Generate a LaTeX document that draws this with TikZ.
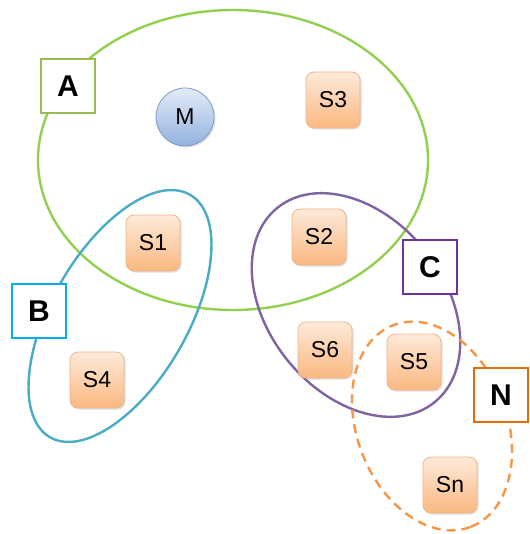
\documentclass[tikz,border=0pt]{standalone}
\usepackage{fontspec}
\setmainfont{Liberation Sans}
\usetikzlibrary{shapes.geometric,shadows}
\definecolor{grA}{HTML}{92D050}
\definecolor{boxA}{HTML}{9BBB59}
\definecolor{ellB}{HTML}{4BACC6}
\definecolor{boxB}{HTML}{00B0F0}
\definecolor{ellC}{HTML}{8064A2}
\definecolor{boxC}{HTML}{7030A0}
\definecolor{ellN}{HTML}{F79646}
\definecolor{boxN}{HTML}{E46C0A}
\definecolor{sTop}{HTML}{FDEADA}
\definecolor{sBot}{HTML}{FAB880}
\definecolor{sBorder}{HTML}{F2B48A}
\definecolor{mTop}{HTML}{E3ECF8}
\definecolor{mBot}{HTML}{93B1DE}
\definecolor{mBorder}{HTML}{7D9CCB}
\tikzset{
  grp/.style={ellipse, inner sep=0pt, line width=2.4pt},
  lab/.style={draw, fill=white, line width=2.8pt, minimum width=54pt, minimum height=54pt, inner sep=0pt, font=\fontsize{30}{30}\selectfont\bfseries},
  sbox/.style={draw=sBorder, line width=0.8pt, rounded corners=8pt, top color=sTop, bottom color=sBot, minimum width=54pt, minimum height=56pt, inner sep=0pt, font=\fontsize{23}{23}\selectfont, drop shadow={shadow xshift=1.5pt, shadow yshift=-1.5pt, opacity=0.25}},
  mnode/.style={circle, draw=mBorder, line width=0.8pt, top color=mTop, bottom color=mBot, minimum size=58pt, inner sep=0pt, font=\fontsize{23}{23}\selectfont, drop shadow={shadow xshift=1.5pt, shadow yshift=-1.5pt, opacity=0.25}}
}
\begin{document}
\begin{tikzpicture}[x=1pt, y=-1pt]
\useasboundingbox[fill=white] (0,0) rectangle (529,534);
% group ellipses
\node[grp, draw=grA, minimum width=390pt, minimum height=300pt] (ga) at (233,160) {};
\node[grp, draw=ellB, minimum width=280pt, minimum height=136pt, rotate=60] (gb) at (120,316) {};
\node[grp, draw=ellC, minimum width=250pt, minimum height=176pt, rotate=-51] (gc) at (356,305) {};
\node[grp, draw=ellN, dashed, dash pattern=on 9pt off 6pt, minimum width=216pt, minimum height=150pt, rotate=-69] (gn) at (432,426) {};
% members
\node[mnode] (m) at (185,117) {M};
\node[sbox] (s3) at (333,100) {S3};
\node[sbox] (s1) at (153,243) {S1};
\node[sbox] (s2) at (319,237) {S2};
\node[sbox] (s6) at (325,350) {S6};
\node[sbox] (s5) at (414,362) {S5};
\node[sbox] (s4) at (97,380) {S4};
\node[sbox] (sn) at (450,485) {Sn};
% labels
\node[lab, draw=boxA] (la) at (68,86) {A};
\node[lab, draw=boxB] (lb) at (39,311) {B};
\node[lab, draw=boxC] (lc) at (430,267) {C};
\node[lab, draw=boxN] (ln) at (501,395) {N};
\end{tikzpicture}
\end{document}
